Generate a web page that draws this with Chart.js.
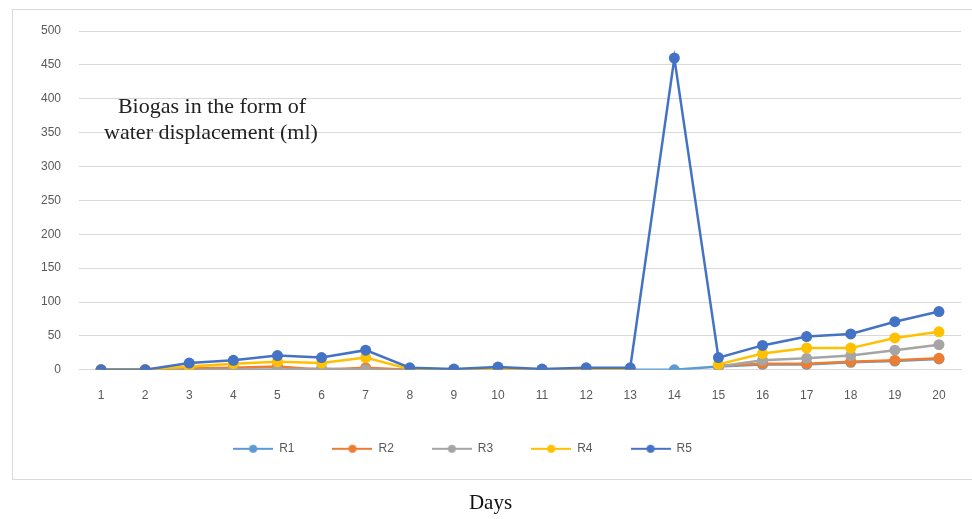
<!DOCTYPE html>
<html>
<head>
<meta charset="utf-8">
<script src="https://cdn.jsdelivr.net/npm/chart.js@4.4.0/dist/chart.umd.min.js"></script>
<style>
  body { margin: 0; background: #fff; }
  #wrap { width: 972px; height: 519px; }
</style>
</head>
<body>
<div id="wrap"><canvas id="myChart" width="972" height="519"></canvas></div>
<script>
// data
const days = ["1","2","3","4","5","6","7","8","9","10","11","12","13","14","15","16","17","18","19","20"];
const r1 = [0,0,0,0,0,0,0,0,0,0,0,0,0,0,5,8,8,11,13,16];
const r2 = [0,0,2,3,5,0,3,0,0,0,0,0,0,null,6,9,9,12,14,17];
const r3 = [0,0,0,0,0,2,0,0,0,0,0,0,0,null,5,14,17,21,29,37];
const r4 = [0,0,5,9,12,10,18,1,0,0,0,0,0,null,8,24,32,32,47,56];
const r5 = [0,0,10,14,21,18,29,3,1,4,1,3,3,460,18,36,49,53,71,86];
const yTicks = [0,50,100,150,200,250,300,350,400,450,500];
const seriesNames = ["R1","R2","R3","R4","R5"];
const colors = ["#5B9BD5","#ED7D31","#A5A5A5","#FFC000","#4472C4"];
const noteLines = ["Biogas in the form of", "water displacement (ml)"];

Chart.defaults.font.family = "'Liberation Sans', Arial, sans-serif";
Chart.defaults.color = "#595959";

// little line-with-dot icons for the legend
function legendIcon(color) {
	const c = document.createElement("canvas");
	c.width = 40; c.height = 12;
	const g = c.getContext("2d");
	g.strokeStyle = color;
	g.lineWidth = 2;
	g.beginPath(); g.moveTo(0, 6); g.lineTo(40, 6); g.stroke();
	g.fillStyle = color;
	g.beginPath(); g.arc(20, 6, 4, 0, Math.PI * 2); g.fill();
	return c;
}
const icons = colors.map(legendIcon);

function makeSet(i, values) {
	return {
		label: seriesNames[i],
		data: values,
		borderColor: colors[i],
		backgroundColor: colors[i],
		borderWidth: 2.5,
		pointRadius: 5.5,
		pointBorderWidth: 0,
		fill: false,
		spanGaps: false,
		tension: 0,
		order: 4 - i
	};
}

const framePlugin = {
	id: "frame",
	afterLayout(chart) {
		// nudge legend a bit to the left like the original
		chart.legend.left -= 18;
		chart.legend.right -= 18;
		// and the axis title a little right
		chart.titleBlock.left += 10;
		chart.titleBlock.right += 10;
	},
	beforeDraw(chart) {
		const ctx = chart.ctx;
		ctx.save();
		ctx.strokeStyle = "#d9d9d9";
		ctx.lineWidth = 1;
		ctx.strokeRect(12.5, 9.5, 980, 470);
		ctx.restore();
	},
	afterDraw(chart) {
		const ctx = chart.ctx;
		ctx.save();
		ctx.fillStyle = "#222";
		ctx.font = "22px 'Liberation Serif', 'DejaVu Serif', serif";
		ctx.textAlign = "center";
		ctx.textBaseline = "middle";
		ctx.fillText(noteLines[0], 212, 107);
		ctx.fillText(noteLines[1], 211, 133);
		ctx.restore();
	}
};

const myChart = new Chart(document.getElementById("myChart").getContext("2d"), {
	type: "line",
	data: {
		labels: days,
		datasets: [makeSet(0, r1), makeSet(1, r2), makeSet(2, r3), makeSet(3, r4), makeSet(4, r5)]
	},
	options: {
		responsive: false,
		animation: false,
		layout: { padding: { left: 0, right: 11, top: 31, bottom: 0 } },
		scales: {
			x: {
				offset: true,
				grid: { display: false, drawTicks: false },
				border: { color: "#d9d9d9" },
				ticks: { padding: 19, font: { size: 12 }, maxRotation: 0, autoSkip: false },
				afterFit(s) { s.height = 35; }
			},
			y: {
				min: 0, max: 500,
				afterBuildTicks(s) { s.ticks = yTicks.map(v => ({ value: v })); },
				grid: { color: "#d9d9d9", drawTicks: false },
				border: { display: false },
				ticks: { padding: 18, font: { size: 12 } },
				afterFit(s) { s.width = 79; }
			}
		},
		plugins: {
			tooltip: { enabled: false },
			legend: {
				position: "bottom",
				labels: {
					usePointStyle: true,
					pointStyleWidth: 40,
					padding: 38,
					font: { size: 12 },
					color: "#595959",
					sort: (a, b) => a.datasetIndex - b.datasetIndex,
					generateLabels(chart) {
						const items = Chart.defaults.plugins.legend.labels.generateLabels(chart);
						items.forEach(it => { it.pointStyle = icons[it.datasetIndex]; });
						return items;
					}
				}
			},
			title: {
				display: true,
				position: "bottom",
				text: "Days",
				color: "#111",
				font: { family: "'Liberation Serif', 'DejaVu Serif', serif", size: 21, weight: "normal" },
				padding: { top: 26, bottom: 3 }
			}
		}
	},
	plugins: [framePlugin]
});
</script>
</body>
</html>
